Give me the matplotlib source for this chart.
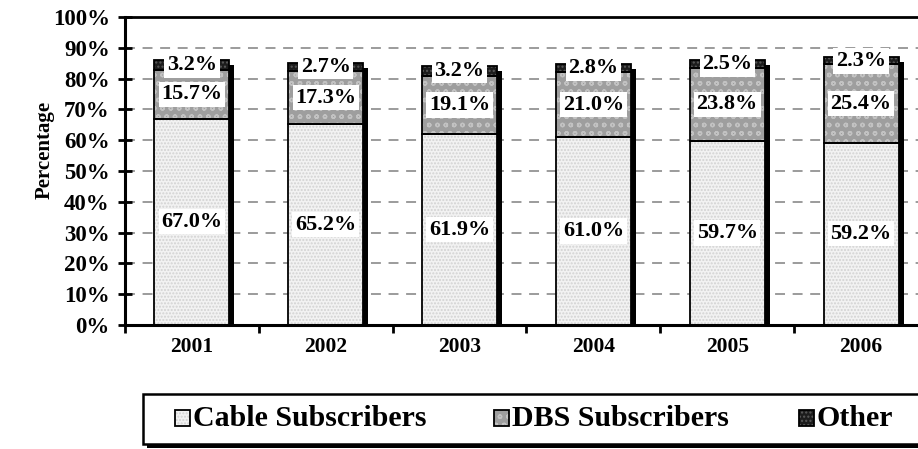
import numpy as np
import matplotlib
matplotlib.use('Agg')
import matplotlib.pyplot as plt
import matplotlib.transforms as mtransforms
from matplotlib.patches import Rectangle


years = ['2001', '2002', '2003', '2004', '2005', '2006']
cable = [67.0, 65.2, 61.9, 61.0, 59.7, 59.2]
dbs = [15.7, 17.3, 19.1, 21.0, 23.8, 25.4]
other = [3.2, 2.7, 3.2, 2.8, 2.5, 2.3]
series_names = ['Cable Subscribers', 'DBS Subscribers', 'Other']
yticks = list(range(0, 101, 10))

# face colour, hatch, hatch colour for each series
styles = [('#f2f2f2', '.....', '#d2d2d2'),
          ('#9e9e9e', 'oo', '#c2c2c2'),
          ('#1c1c1c', '....', '#5a5a5a')]

W, H = 918, 449
plt.rcParams['font.family'] = ['Liberation Serif', 'DejaVu Serif']
plt.rcParams['font.weight'] = 'bold'
plt.rcParams['hatch.linewidth'] = 1.0


def px(x, y):
    # pixel position (from top-left) to figure fraction
    return x / W, 1 - y / H


fig = plt.figure(figsize=(W / 100, H / 100), dpi=100)
ax = fig.add_axes([125 / W, 1 - 325 / H, (928 - 125) / W, (325 - 17) / H])

x = np.arange(len(years))
bw = 0.56
totals = np.array(cable) + np.array(dbs) + np.array(other)

# grid lines behind everything
for v in yticks[1:-1]:
    ax.axhline(v, color='#808080', lw=1.1, ls=(0, (6.5, 5)), zorder=0)

# drop shadow behind each stack
shadow_tr = ax.transData + mtransforms.ScaledTranslation(5 / 100, -5 / 100, fig.dpi_scale_trans)
shadow = ax.bar(x, totals, bw, color='black', lw=0, zorder=1)
for p in shadow:
    p.set_transform(shadow_tr)

bottoms = np.zeros(len(years))
for vals, (fc, hatch, hc) in zip([cable, dbs, other], styles):
    ax.bar(x, vals, bw, bottom=bottoms, color=fc, hatch=hatch, edgecolor=hc, lw=0, zorder=2)
    ax.bar(x, vals, bw, bottom=bottoms, fill=False, edgecolor='black', lw=1.3, zorder=3)
    bottoms = bottoms + np.array(vals)

# value labels on white boxes
bottoms = np.zeros(len(years))
for vals in [cable, dbs, other]:
    for xi, b, v in zip(x, bottoms, vals):
        ax.text(xi, b + v / 2, f'{v:.1f}%', ha='center', va='center', fontsize=16,
                fontweight='bold', zorder=5,
                bbox=dict(boxstyle='square,pad=0.12', fc='white', ec='none'))
    bottoms = bottoms + np.array(vals)

ax.set_xlim(-0.5, len(years) - 0.5)
ax.set_ylim(0, 100)
ax.set_yticks(yticks)
ax.set_yticklabels([f'{v}%' for v in yticks], fontsize=16.5, fontweight='bold')
ax.tick_params(axis='y', direction='inout', length=10, width=2, pad=6)
ax.set_xticks(np.arange(len(years) + 1) - 0.5)
ax.set_xticklabels([])
ax.tick_params(axis='x', which='major', direction='out', length=6, width=2)
ax.set_xticks(x, minor=True)
ax.set_xticklabels(years, minor=True, fontsize=15.5, fontweight='bold')
ax.tick_params(axis='x', which='minor', length=0, pad=9)
for s in ax.spines.values():
    s.set_linewidth(2)
ax.spines['left'].set_linewidth(2.2)
ax.spines['bottom'].set_linewidth(2.2)

fig.text(*px(45, 150), 'Percentage', rotation=90, ha='center', va='center',
         fontsize=15, fontweight='bold')

# legend box with a drop shadow
lx0, ly0, lx1, ly1 = 143, 394, 940, 444
fig.patches.append(Rectangle(px(lx0 + 4, ly1 + 4), (lx1 - lx0) / W, (ly1 - ly0) / H,
                             transform=fig.transFigure, fc='black', ec='none'))
fig.patches.append(Rectangle(px(lx0, ly1), (lx1 - lx0) / W, (ly1 - ly0) / H,
                             transform=fig.transFigure, fc='white', ec='black', lw=1.8))

marker_x = [175, 494, 799]
for mx, name, (fc, hatch, hc) in zip(marker_x, series_names, styles):
    fig.patches.append(Rectangle(px(mx, 426), 15 / W, 16 / H, transform=fig.transFigure,
                                 fc=fc, hatch=hatch, ec=hc, lw=0))
    fig.patches.append(Rectangle(px(mx, 426), 15 / W, 16 / H, transform=fig.transFigure,
                                 fill=False, ec='black', lw=1.3))
    fig.text(*px(mx + 18, 418), name, ha='left', va='center', fontsize=21.5, fontweight='bold')

fig.savefig('out.png', dpi=100)
